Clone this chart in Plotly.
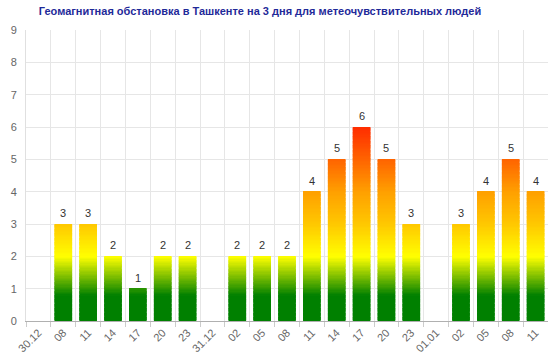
import math
import plotly.graph_objects as go

# ---- data ----
tick_labels = ["30.12", "08", "11", "14", "17", "20", "23",
               "31.12", "02", "05", "08", "11", "14", "17", "20", "23",
               "01.01", "02", "05", "08", "11"]
kp_values = [None, 3, 3, 2, 1, 2, 2,
             None, 2, 2, 2, 4, 5, 6, 5, 3,
             None, 3, 4, 5, 4]
title_text = "Геомагнитная обстановка в Ташкенте на 3 дня для метеочувствительных людей"

# ---- colour ramp in value space (green -> yellow -> orange -> red) ----
stops = [(0.0, (0, 128, 0)), (0.8, (0, 128, 0)), (2.0, (255, 255, 0)),
         (3.0, (255, 200, 0)), (4.0, (255, 160, 0)), (5.0, (255, 100, 0)),
         (6.0, (255, 45, 0)), (9.0, (255, 0, 0))]


def ramp(v):
    for (a, ca), (b, cb) in zip(stops[:-1], stops[1:]):
        if a <= v <= b:
            t = (v - a) / (b - a) if b > a else 0
            c = [round(ca[j] + (cb[j] - ca[j]) * t) for j in range(3)]
            return "rgb(%d,%d,%d)" % tuple(c)
    return "rgb(%d,%d,%d)" % stops[-1][1]


xs = list(range(len(tick_labels)))

# gradient bars built from thin stacked slices of each value
seg_x, seg_base, seg_h, seg_c = [], [], [], []
dy = 0.04
for x, v in zip(xs, kp_values):
    if not v:
        continue
    n = math.ceil(v / dy - 1e-9)
    for k in range(n):
        b = k * dy
        h = min(dy + 0.02, v - b)
        seg_x.append(x)
        seg_base.append(b)
        seg_h.append(h)
        seg_c.append(ramp(b + dy / 2))

fig = go.Figure()
fig.add_trace(go.Bar(
    x=seg_x, y=seg_h, base=seg_base, width=0.71,
    marker=dict(color=seg_c, line=dict(width=0)),
    hoverinfo="skip", showlegend=False,
))

annotations = []
for x, v in zip(xs, kp_values):
    if not v:
        continue
    annotations.append(dict(
        x=x, y=v, xref="x", yref="y", text=str(v), showarrow=False,
        yshift=11, yanchor="middle",
        font=dict(size=11, color="#333333", family="Liberation Sans, Arial"),
    ))

fig.update_layout(
    width=560, height=356,
    margin=dict(l=26, r=12, t=30, b=35),
    paper_bgcolor="white", plot_bgcolor="white",
    barmode="overlay",
    annotations=annotations,
    font=dict(family="Liberation Sans, Arial", size=11, color="#666666"),
    title=dict(text="<b>" + title_text + "</b>", x=260 / 560, xanchor="center",
               xref="container", y=1 - 11 / 356, yanchor="middle", yref="container",
               font=dict(size=11, color="#1f2a99", family="Liberation Sans, Arial")),
    xaxis=dict(
        range=[-0.5, 20.5], tickmode="array", tickvals=xs, ticktext=tick_labels,
        tickangle=-45, showgrid=False, ticks="", automargin=False,
        showline=True, linecolor="#b0b0b0", linewidth=1, zeroline=False,
        tickfont=dict(size=11, color="#666666"),
        minor=dict(tickmode="array", tickvals=[i - 0.5 for i in range(21)],
                   showgrid=True, gridcolor="#e6e6e6", gridwidth=1,
                   ticks="outside", ticklen=5, tickcolor="#cccccc"),
    ),
    yaxis=dict(
        range=[0, 9], tickmode="linear", tick0=0, dtick=1,
        showgrid=True, gridcolor="#e6e6e6", gridwidth=1, zeroline=False,
        showline=True, linecolor="#e0e0e0", ticks="", ticklabelstandoff=6,
        automargin=False, tickfont=dict(size=11, color="#666666"),
    ),
)

fig.write_html("out.html", config={"displayModeBar": False},
               post_script="document.body.style.margin='0';")
